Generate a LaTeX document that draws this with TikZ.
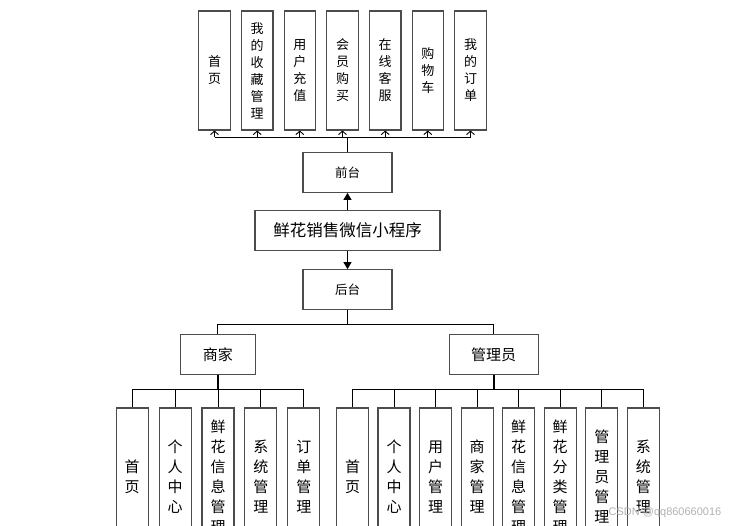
\documentclass[tikz,border=0pt]{standalone}
\usepackage{fontspec}
\setmainfont{Noto Sans CJK SC}
\newfontfamily\wmfont{Liberation Sans}
\usetikzlibrary{arrows.meta}
\begin{document}
\begin{tikzpicture}[x=1pt,y=-1pt,
  box/.style={draw=black!70,line width=1.1pt,fill=white,inner sep=0pt,align=center},
  topbox/.style={box,minimum width=31.5pt,minimum height=119pt,font=\fontsize{13pt}{17pt}\selectfont},
  botbox/.style={box,minimum width=32pt,minimum height=138pt,font=\fontsize{15pt}{20pt}\selectfont},
  midbox/.style={box,minimum width=89pt,minimum height=40pt,font=\fontsize{12.5pt}{14pt}\selectfont},
  rolebox/.style={box,minimum height=39.5pt,font=\fontsize{15pt}{17pt}\selectfont},
  conn/.style={draw=black,line width=0.9pt},
  trunk/.style={draw=black,line width=1.6pt},
  upar/.style={conn,-{Straight Barb[length=3.5pt,width=8pt]}},
  fillar/.style={conn,-{Triangle[length=7pt,width=8pt]}}]
\useasboundingbox (0,0) rectangle (748,526);
\clip (0,0) rectangle (748,526);
\fill[white] (0,0) rectangle (748,526);

% top boxes
\node[topbox] (t1) at (214.5,70.5) {首\\页};
\node[topbox] (t2) at (257.2,70.5) {我\\的\\收\\藏\\管\\理};
\node[topbox] (t3) at (299.8,70.5) {用\\户\\充\\值};
\node[topbox] (t4) at (342.5,70.5) {会\\员\\购\\买};
\node[topbox] (t5) at (385.2,70.5) {在\\线\\客\\服};
\node[topbox] (t6) at (427.8,70.5) {购\\物\\车};
\node[topbox] (t7) at (470.5,70.5) {我\\的\\订\\单};

% middle
\node[midbox] (front) at (347.5,172.3) {前台};
\node[box,minimum width=185pt,minimum height=40pt,font=\fontsize{16.5pt}{18pt}\selectfont] (main) at (347.5,230.7) {鲜花销售微信小程序};
\node[midbox] (back) at (347.5,289.7) {后台};

% roles
\node[rolebox,minimum width=75.7pt] (merchant) at (217.9,354.7) {商家};
\node[rolebox,minimum width=89.3pt] (admin) at (493.7,354.7) {管理员};

% merchant children
\node[botbox] (m1) at (132.2,477) {首\\页};
\node[botbox] (m2) at (175.1,477) {个\\人\\中\\心};
\node[botbox] (m3) at (218.0,477) {鲜\\花\\信\\息\\管\\理};
\node[botbox] (m4) at (260.9,477) {系\\统\\管\\理};
\node[botbox] (m5) at (303.8,477) {订\\单\\管\\理};

% admin children
\node[botbox] (a1) at (352.5,477) {首\\页};
\node[botbox] (a2) at (394.0,477) {个\\人\\中\\心};
\node[botbox] (a3) at (435.6,477) {用\\户\\管\\理};
\node[botbox] (a4) at (477.1,477) {商\\家\\管\\理};
\node[botbox] (a5) at (518.7,477) {鲜\\花\\信\\息\\管\\理};
\node[botbox] (a6) at (560.2,477) {鲜\\花\\分\\类\\管\\理};
\node[botbox] (a7) at (601.8,477) {管\\理\\员\\管\\理};
\node[botbox] (a8) at (643.3,477) {系\\统\\管\\理};

% top connectors
\coordinate (tb) at (347.5,137.3);
\draw[trunk] (front.north) -- (tb);
\draw[conn] (t1.south |- tb) -- (t7.south |- tb);
\foreach \i in {1,...,7} {\draw[upar] (t\i.south |- tb) -- (t\i.south);}

% middle arrows
\draw[fillar] (main.north) -- (front.south);
\draw[fillar] (main.south) -- (back.north);

% back to roles
\coordinate (bb) at (347.5,324);
\draw[conn] (back.south) -- (bb);
\draw[conn] (merchant.north |- bb) -- (admin.north |- bb);
\draw[conn] (merchant.north |- bb) -- (merchant.north);
\draw[conn] (admin.north |- bb) -- (admin.north);

% merchant bus
\coordinate (mb) at (217.9,389.3);
\draw[trunk] (merchant.south) -- (mb);
\draw[conn] (m1.north |- mb) -- (m5.north |- mb);
\foreach \i in {1,...,5} {\draw[conn] (m\i.north |- mb) -- (m\i.north);}

% admin bus
\coordinate (ab) at (493.7,389.3);
\draw[trunk] (admin.south) -- (ab);
\draw[conn] (a1.north |- ab) -- (a8.north |- ab);
\foreach \i in {1,...,8} {\draw[conn] (a\i.north |- ab) -- (a\i.north);}

% watermark
\node[text=black!30,font=\wmfont\fontsize{11pt}{12pt}\selectfont,inner sep=0pt] (wm) at (665,513) {CSDN @qq860660016};
\end{tikzpicture}
\end{document}
